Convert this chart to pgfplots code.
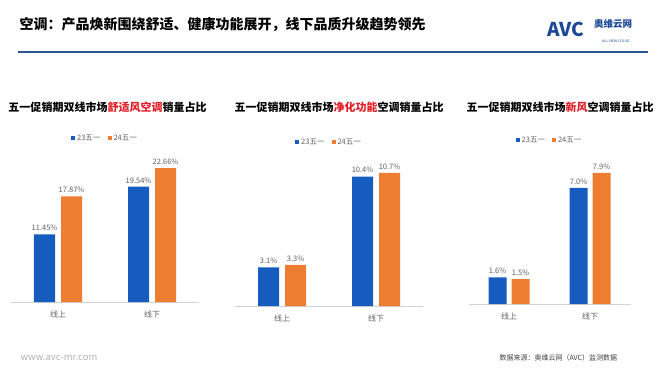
\documentclass[border=0pt]{standalone}
\usepackage{pgfplots}
\pgfplotsset{compat=1.18}
\usepackage{fontspec}
\setmainfont{Noto Sans CJK SC}
\definecolor{barblue}{RGB}{22,92,190}
\definecolor{barorange}{RGB}{237,125,49}
\definecolor{hdrblue}{RGB}{45,85,145}
\definecolor{logoblue}{RGB}{28,72,150}
\definecolor{titred}{RGB}{225,30,40}
\definecolor{lblgray}{RGB}{95,95,95}
\pgfplotsset{mybars/.style={
  scale only axis, height=160pt, ymin=0,
  xmin=-0.5, xmax=1.5, xtick={0,1}, xticklabels={线上,线下},
  axis x line*=bottom, axis y line=none,
  x axis line style={draw=gray!35, line width=0.6pt, -},
  major tick length=0pt,
  /pgf/number format/assume math mode=true,
  xticklabel style={font=\fontsize{8}{9}\selectfont, text=lblgray, yshift=-5pt},
  every node near coord/.append style={font=\fontsize{7.5}{9}\selectfont, text=lblgray},
  legend columns=2,
  legend style={draw=none, fill=none, at={(0.5,1)}, anchor=center, yshift=4pt,
    font=\fontsize{7.5}{9}\selectfont, text=lblgray,
    /tikz/every even column/.append style={column sep=5pt}},
  clip=false,
},
sqlegend/.style={every axis plot post/.append style={
  legend image code/.code={\fill[##1] (0pt,-2pt) rectangle (4pt,2pt);}}}
}
\begin{document}
\begin{tikzpicture}
\path[use as bounding box] (0pt,0pt) rectangle (660pt,372pt);
% header
\node[anchor=west, font=\fontsize{14}{16}\selectfont\bfseries] at (16pt,347pt) {空调：产品焕新围绕舒适、健康功能展开，线下品质升级趋势领先};
\draw[hdrblue, line width=1.8pt] (18pt,320pt) -- (648pt,320pt);
\node[anchor=west, font=\fontsize{19}{20}\selectfont\bfseries, text=logoblue, inner sep=0pt] at (547pt,343pt) {AVC};
\node[anchor=west, font=\fontsize{9.5}{10}\selectfont\bfseries, text=logoblue, inner sep=0pt] at (594pt,348.5pt) {奥维云网};
\node[anchor=west, font=\fontsize{3.5}{4}\selectfont, text=logoblue, inner sep=0pt] at (602pt,331pt) {ALL VIEW CLOUD};
% chart titles
\node[font=\fontsize{11}{13}\selectfont\bfseries] at (107.5pt,265pt) {五一促销期双线市场\textcolor{titred}{舒适风空调}销量占比};
\node[font=\fontsize{11}{13}\selectfont\bfseries] at (339pt,265pt) {五一促销期双线市场\textcolor{titred}{净化功能}空调销量占比};
\node[font=\fontsize{11}{13}\selectfont\bfseries] at (560pt,265pt) {五一促销期双线市场\textcolor{titred}{新风}空调销量占比};
% footer
\node[anchor=west, font=\fontsize{9.5}{11}\selectfont, text=gray!60] at (17pt,14.5pt) {www.avc-mr.com};
\node[anchor=west, font=\fontsize{7}{8}\selectfont, text=black!75] at (496pt,14.5pt) {数据来源：奥维云网（AVC）监测数据};
% chart 1
\begin{axis}[mybars, at={(11pt,70pt)}, anchor=south west, width=188pt, ymax=27.1,
  ybar=6pt, bar width=21pt, sqlegend,
  nodes near coords={\pgfmathprintnumber[fixed,fixed zerofill,precision=2]{\pgfplotspointmeta}\%}]
\addplot[draw=none, fill=barblue] coordinates {(0,11.45) (1,19.54)};
\addplot[draw=none, fill=barorange] coordinates {(0,17.87) (1,22.66)};
\legend{23五一,24五一}
\end{axis}
% chart 2
\begin{axis}[mybars, at={(235pt,66pt)}, anchor=south west, width=188pt, ymax=12.85,
  ybar=6pt, bar width=21pt, sqlegend,
  nodes near coords={\pgfmathprintnumber[fixed,fixed zerofill,precision=1]{\pgfplotspointmeta}\%}]
\addplot[draw=none, fill=barblue] coordinates {(0,3.1) (1,10.4)};
\addplot[draw=none, fill=barorange] coordinates {(0,3.3) (1,10.7)};
\legend{23五一,24五一}
\end{axis}
% chart 3
\begin{axis}[mybars, at={(468.5pt,68pt)}, anchor=south west, width=162pt, ymax=9.64,
  ybar=5pt, bar width=18pt, sqlegend,
  nodes near coords={\pgfmathprintnumber[fixed,fixed zerofill,precision=1]{\pgfplotspointmeta}\%}]
\addplot[draw=none, fill=barblue] coordinates {(0,1.6) (1,7.0)};
\addplot[draw=none, fill=barorange] coordinates {(0,1.5) (1,7.9)};
\legend{23五一,24五一}
\end{axis}
\end{tikzpicture}
\end{document}
